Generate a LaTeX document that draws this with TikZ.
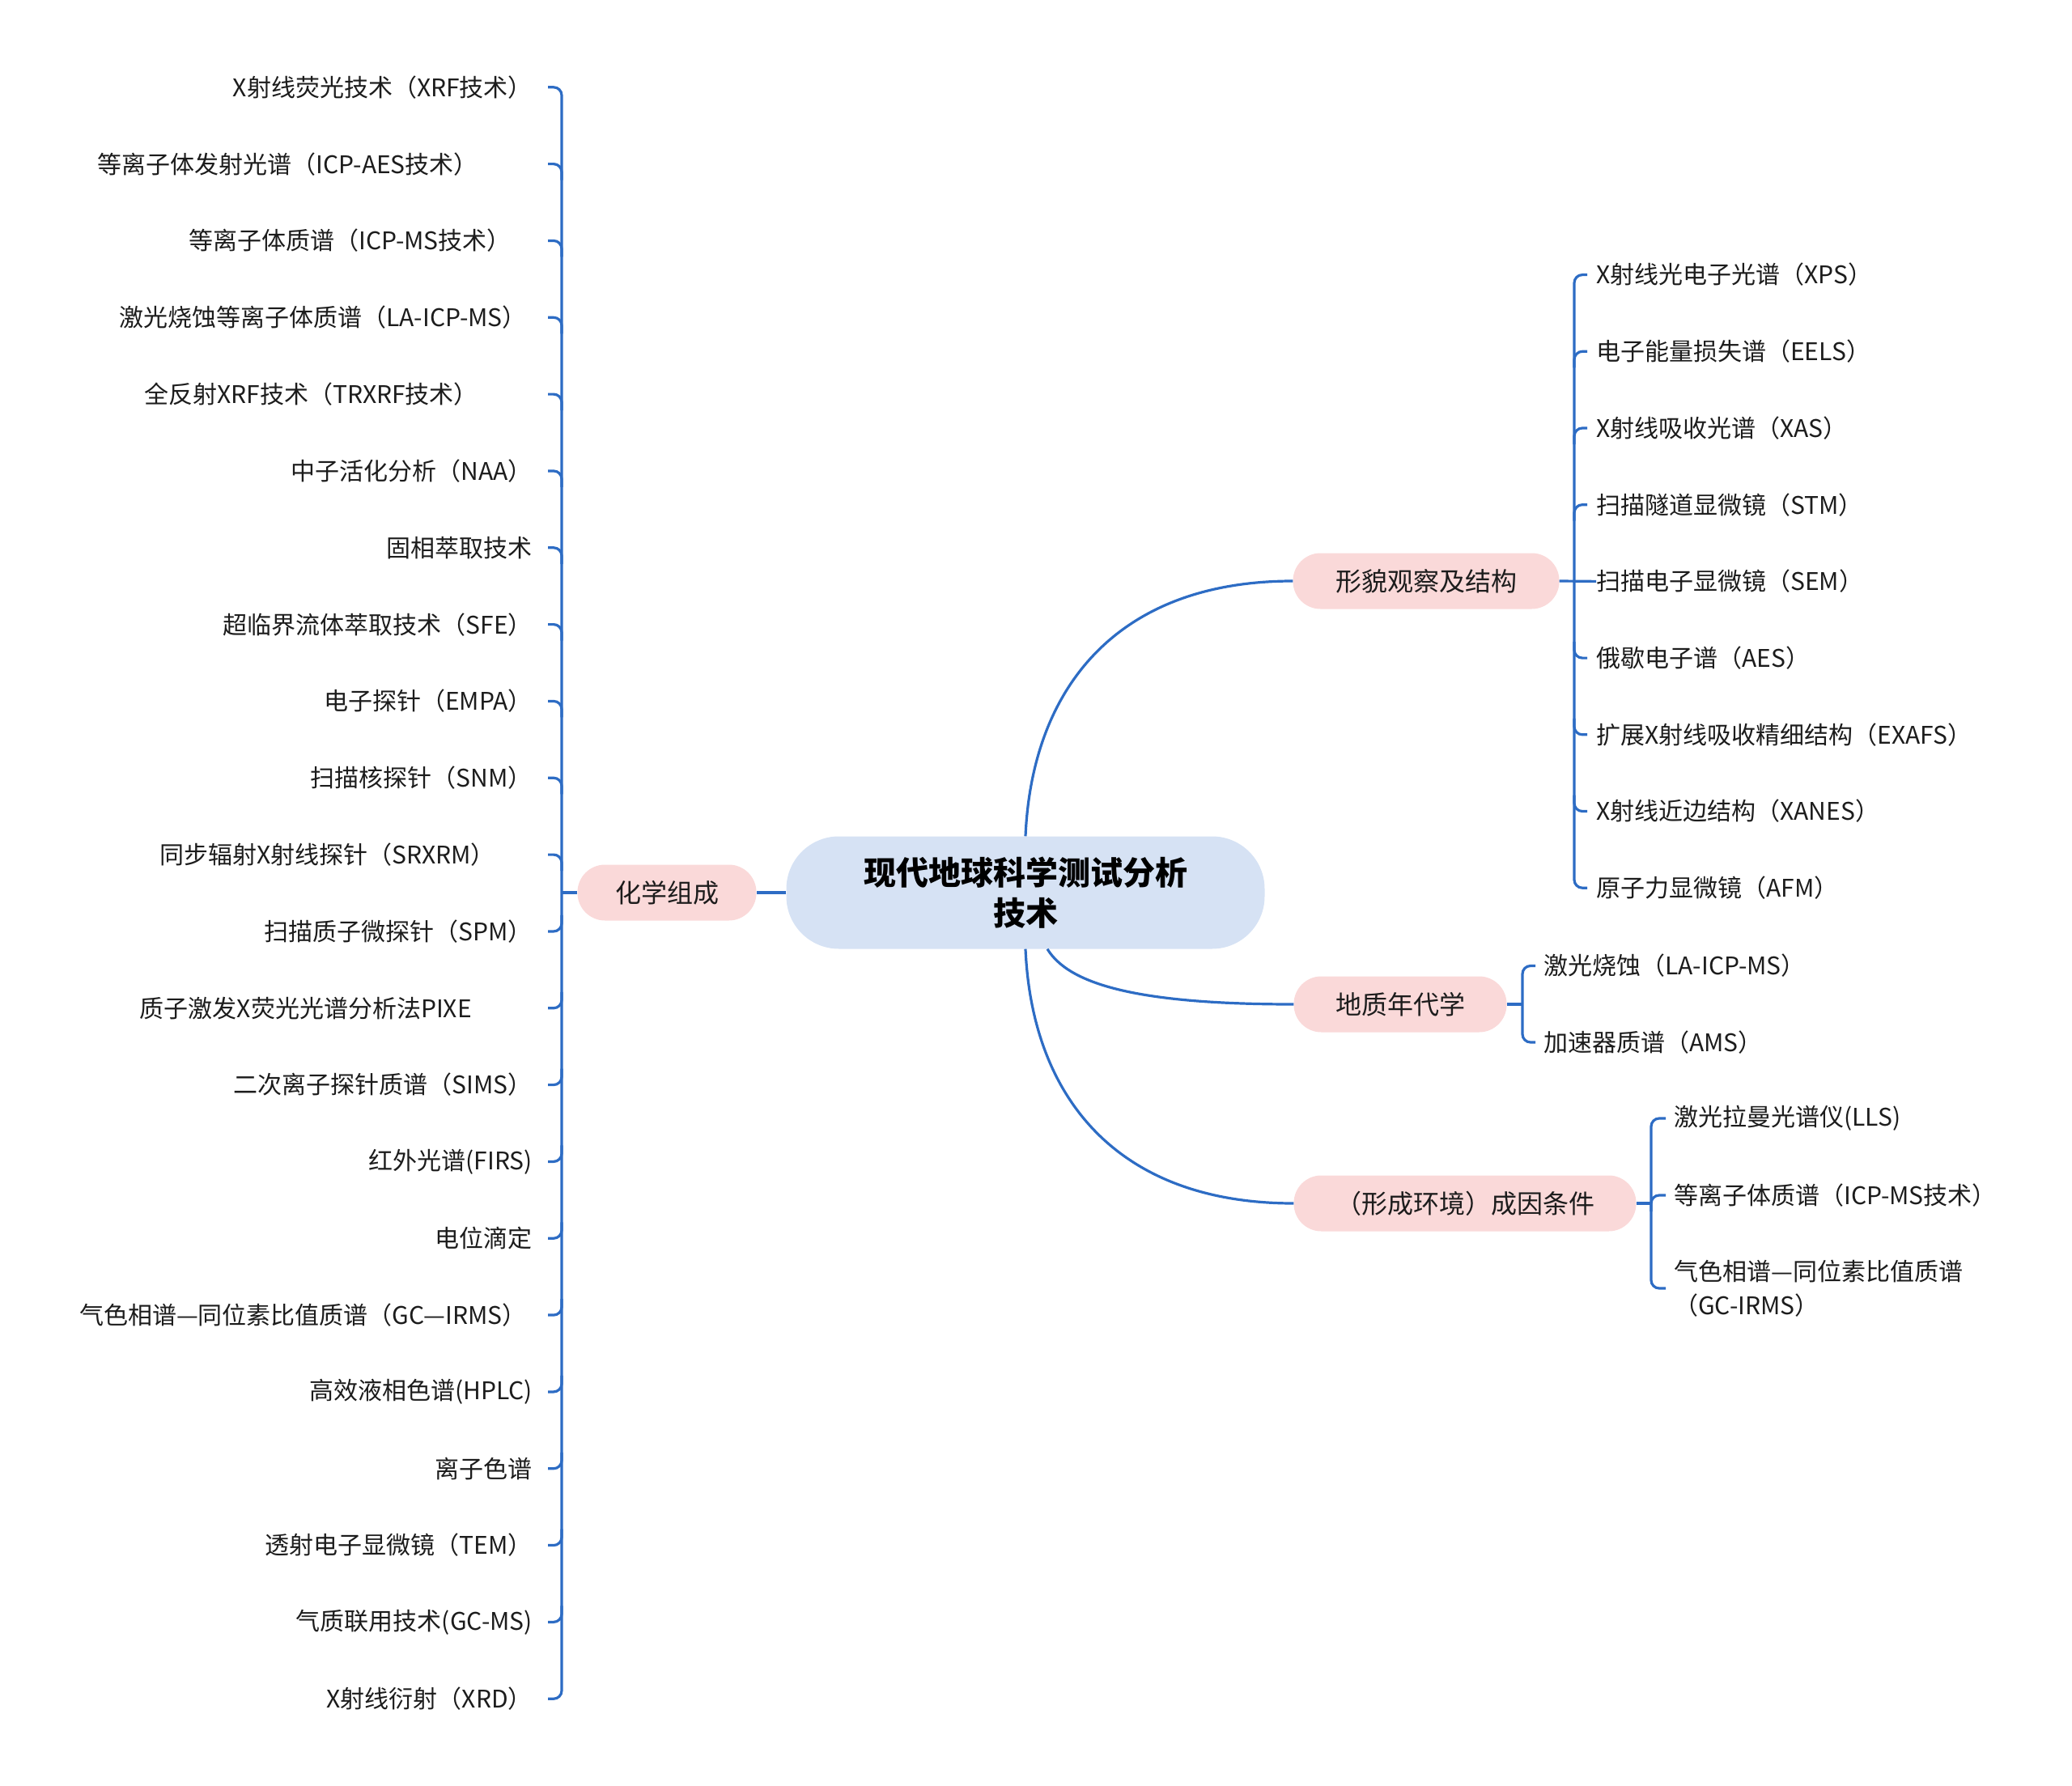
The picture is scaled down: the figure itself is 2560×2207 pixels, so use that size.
\documentclass[tikz,border=0pt]{standalone}
\usepackage{fontspec}
\setmainfont{Noto Sans CJK SC}
\usetikzlibrary{calc}
\definecolor{lineblue}{HTML}{2D6CC4}
\definecolor{rootfill}{HTML}{D6E2F4}
\definecolor{pinkfill}{HTML}{FAD9D9}
\definecolor{txt}{HTML}{1C1C1C}
\begin{document}
\begin{tikzpicture}[x=1pt,y=-1pt,
  conn/.style={draw=lineblue,line width=3.2pt},
  tick/.style={draw=lineblue,line width=3.2pt,rounded corners=10pt},
  leafL/.style={anchor=east,inner sep=0pt,text=txt,font=\fontsize{30}{40}\selectfont},
  leafR/.style={anchor=west,inner sep=0pt,text=txt,align=left,font=\fontsize{30}{42}\selectfont},
  branch/.style={fill=pinkfill,rounded corners=34pt,minimum height=69pt,inner sep=0pt,text=txt,font=\fontsize{32}{40}\selectfont},
  rootnode/.style={fill=rootfill,rounded corners=65pt,minimum width=591pt,minimum height=139pt,inner sep=0pt,align=center,text=black,font=\fontsize{40}{50}\selectfont\bfseries}
]
\useasboundingbox (0,0) rectangle (2560,2207);

% central and branch nodes
\node[rootnode] (root) at (1267,1103) {现代地球科学测试分析\\技术};
\node[branch,minimum width=221pt] (chem) at (824,1103) {化学组成};
\node[branch,minimum width=329pt] (morph) at (1762,718) {形貌观察及结构};
\node[branch,minimum width=263pt] (geo) at (1730,1241) {地质年代学};
\node[branch,minimum width=423pt] (cond) at (1810,1487) {（形成环境）成因条件};

% main connectors
\draw[conn] (root.west) -- (chem.east);
\draw[conn] (root.north) .. controls (1275,850) and (1380,718) .. (morph.west);
\draw[conn] ($(root.south)+(27,0)$) .. controls (1320,1215) and (1400,1241) .. (geo.west);
\draw[conn] (root.south) .. controls (1275,1356) and (1380,1487) .. (cond.west);

% ---------- left bracket ----------
\coordinate (lbx) at (677,0);
\coordinate (lbv) at (694,0);
\foreach \xe/\t [count=\i] in {
  658/{X射线荧光技术（XRF技术）},
  591/{等离子体发射光谱（ICP-AES技术）},
  632/{等离子体质谱（ICP-MS技术）},
  651/{激光烧蚀等离子体质谱（LA-ICP-MS）},
  591/{全反射XRF技术（TRXRF技术）},
  658/{中子活化分析（NAA）},
  658/{固相萃取技术},
  658/{超临界流体萃取技术（SFE）},
  658/{电子探针（EMPA）},
  658/{扫描核探针（SNM）},
  612/{同步辐射X射线探针（SRXRM）},
  658/{扫描质子微探针（SPM）},
  583/{质子激发X荧光光谱分析法PIXE},
  658/{二次离子探针质谱（SIMS）},
  658/{红外光谱(FIRS)},
  658/{电位滴定},
  651/{气色相谱—同位素比值质谱（GC—IRMS）},
  658/{高效液相色谱(HPLC)},
  658/{离子色谱},
  658/{透射电子显微镜（TEM）},
  658/{气质联用技术(GC-MS)},
  658/{X射线衍射（XRD）}}{
  \pgfmathsetmacro{\yy}{107.8+94.83*(\i-1)}
  \node[leafL] (L\i) at (\xe,\yy) {\t};
}
\draw[tick] (L1.east -| lbx) -- (L1.east -| lbv) -- (L22.east -| lbv) -- (L22.east -| lbx);
\foreach \i in {2,...,11}{
  \draw[tick] (L\i.east -| lbx) -- (L\i.east -| lbv) -- ++(0,20);
}
\foreach \i in {12,...,21}{
  \draw[tick] (L\i.east -| lbx) -- (L\i.east -| lbv) -- ++(0,-20);
}
\draw[conn] (chem.west) -- (chem.west -| lbv);

% ---------- morphology bracket ----------
\coordinate (mbx) at (1961,0);
\coordinate (mbv) at (1945,0);
\foreach \t [count=\i] in {
  {X射线光电子光谱（XPS）},
  {电子能量损失谱（EELS）},
  {X射线吸收光谱（XAS）},
  {扫描隧道显微镜（STM）},
  {扫描电子显微镜（SEM）},
  {俄歇电子谱（AES）},
  {扩展X射线吸收精细结构（EXAFS）},
  {X射线近边结构（XANES）},
  {原子力显微镜（AFM）}}{
  \pgfmathsetmacro{\yy}{339.6+94.7*(\i-1)}
  \node[leafR] (M\i) at (1972,\yy) {\t};
}
\draw[tick] (M1.west -| mbx) -- (M1.west -| mbv) -- (M9.west -| mbv) -- (M9.west -| mbx);
\foreach \i in {2,3,4}{
  \draw[tick] (M\i.west -| mbx) -- (M\i.west -| mbv) -- ++(0,20);
}
\foreach \i in {6,7,8}{
  \draw[tick] (M\i.west -| mbx) -- (M\i.west -| mbv) -- ++(0,-20);
}
\draw[conn] (morph.east) -- (M5.west);

% ---------- geochronology bracket ----------
\coordinate (gbx) at (1897,0);
\coordinate (gbv) at (1881,0);
\node[leafR] (G1) at (1907,1193.5) {激光烧蚀（LA-ICP-MS）};
\node[leafR] (G2) at (1907,1288) {加速器质谱（AMS）};
\draw[tick] (G1.west -| gbx) -- (G1.west -| gbv) -- (G2.west -| gbv) -- (G2.west -| gbx);
\draw[conn] (geo.east) -- (geo.east -| gbv);

% ---------- conditions bracket ----------
\coordinate (cbx) at (2058,0);
\coordinate (cbv) at (2040,0);
\node[leafR] (C1) at (2068,1382) {激光拉曼光谱仪(LLS)};
\node[leafR] (C2) at (2068,1477) {等离子体质谱（ICP-MS技术）};
\node[leafR] (C3) at (2068,1592) {气色相谱—同位素比值质谱\\（GC-IRMS）};
\draw[tick] (C1.west -| cbx) -- (C1.west -| cbv) -- (C3.west -| cbv) -- (C3.west -| cbx);
\draw[tick] (C2.west -| cbx) -- (C2.west -| cbv) -- ++(0,20);
\draw[conn] (cond.east) -- (cond.east -| cbv);
\end{tikzpicture}
\end{document}
